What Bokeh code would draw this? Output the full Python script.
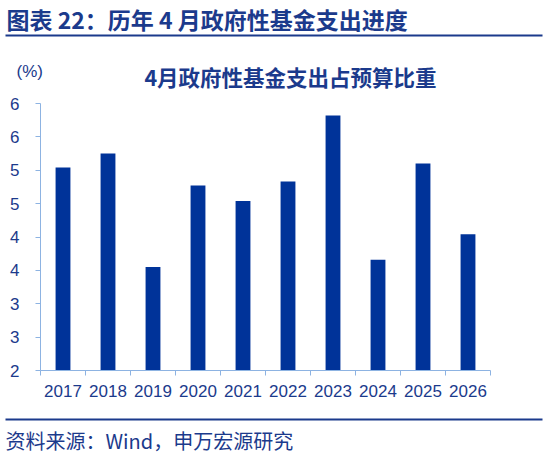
import numpy as np
from bokeh.plotting import figure
from bokeh.models import (Range1d, FixedTicker, CustomJSTickFormatter, ColumnDataSource,
                          LinearAxis)
from bokeh.embed import file_html
from bokeh.resources import INLINE
from bokeh.core.properties import value

# ---- data ----
years = ["2017", "2018", "2019", "2020", "2021", "2022", "2023", "2024", "2025", "2026"]
spend_ratio = [5.04, 5.25, 3.55, 4.77, 4.54, 4.83, 5.82, 3.66, 5.10, 4.04]
y_ticks = [2, 2.5, 3, 3.5, 4, 4.5, 5, 5.5, 6]

title_text = "图表 22：历年 4 月政府性基金支出进度"
chart_title = "4月政府性基金支出占预算比重"
unit_text = "(%)"
source_text = "资料来源：Wind，申万宏源研究"

# ---- styles / layout (pixels) ----
NAVY = "#1b3a8c"
BAR = "#003399"
AXIS = "#8db3e2"
LATIN = "Liberation Sans"
CJK = "Noto Sans CJK SC"
W, H = 544, 455
PLOT_L, PLOT_R, PLOT_T, PLOT_B = 40, 490, 103, 370

n = len(years)
y0, y1 = y_ticks[0], y_ticks[-1]
ppx = (PLOT_R - PLOT_L) / n
ppy = (PLOT_B - PLOT_T) / (y1 - y0)
xr = Range1d(-PLOT_L / ppx, n + (W - PLOT_R) / ppx)
yr = Range1d(y0 - (H - PLOT_B) / ppy, y1 + PLOT_T / ppy)

xpos = np.arange(n) + 0.5
src = ColumnDataSource(dict(x=xpos, top=spend_ratio, year=years))

p = figure(width=W, height=H, output_backend="svg", toolbar_location=None,
           x_range=xr, y_range=yr, x_axis_type=None, y_axis_type=None,
           min_border=0)
p.outline_line_color = None
p.grid.visible = False
p.extra_x_ranges = {"px": Range1d(0, W)}
p.extra_y_ranges = {"py": Range1d(H, 0)}

p.vbar(x="x", top="top", bottom=y0, width=0.33, source=src,
       fill_color=BAR, line_color=None)

ya = LinearAxis(fixed_location=0, bounds=(y0, y1))
ya.ticker = FixedTicker(ticks=y_ticks)
ya.formatter = CustomJSTickFormatter(code="return Math.round(tick).toString();")
ya.axis_line_color = AXIS
ya.major_tick_line_color = AXIS
ya.major_tick_out = 5
ya.major_tick_in = 0
ya.minor_tick_line_color = None
ya.major_label_text_font = LATIN
ya.major_label_text_font_size = "17px"
ya.major_label_text_color = NAVY
ya.major_label_standoff = 16
p.add_layout(ya, "left")

xa = LinearAxis(fixed_location=y0, bounds=(0, n))
xa.ticker = FixedTicker(ticks=list(xpos), minor_ticks=list(range(n + 1)))
xa.major_label_overrides = {float(x): y for x, y in zip(xpos, years)}
xa.axis_line_color = AXIS
xa.major_tick_line_color = None
xa.major_tick_out = 0
xa.major_tick_in = 0
xa.minor_tick_line_color = AXIS
xa.minor_tick_out = 5
xa.minor_tick_in = 0
xa.major_label_text_font = LATIN
xa.major_label_text_font_size = "17px"
xa.major_label_text_color = NAVY
xa.major_label_standoff = 9
p.add_layout(xa, "below")

# ---- texts and rules in pixel coordinates ----
px = dict(x_range_name="px", y_range_name="py")
p.text(x=[6], y=[18], text=[title_text], text_font=value(CJK),
       text_font_style="bold", text_font_size="23px", text_color=NAVY,
       text_baseline="middle", text_align="left", **px)
p.segment(x0=[5], y0=[35], x1=[542], y1=[35], line_color=NAVY, line_width=2, **px)
p.text(x=[16], y=[71], text=[unit_text], text_font=value(LATIN),
       text_font_size="17px", text_color=NAVY,
       text_baseline="middle", text_align="left", **px)
p.text(x=[290], y=[76], text=[chart_title], text_font=value(CJK),
       text_font_style="bold", text_font_size="21.5px", text_color=NAVY,
       text_baseline="middle", text_align="center", **px)
p.segment(x0=[5], y0=[419], x1=[542], y1=[419], line_color=NAVY, line_width=2, **px)
p.text(x=[5], y=[440], text=[source_text], text_font=value(CJK),
       text_font_size="20px", text_color=NAVY,
       text_baseline="middle", text_align="left", **px)

open("out.html", "w").write(file_html(p, INLINE))
